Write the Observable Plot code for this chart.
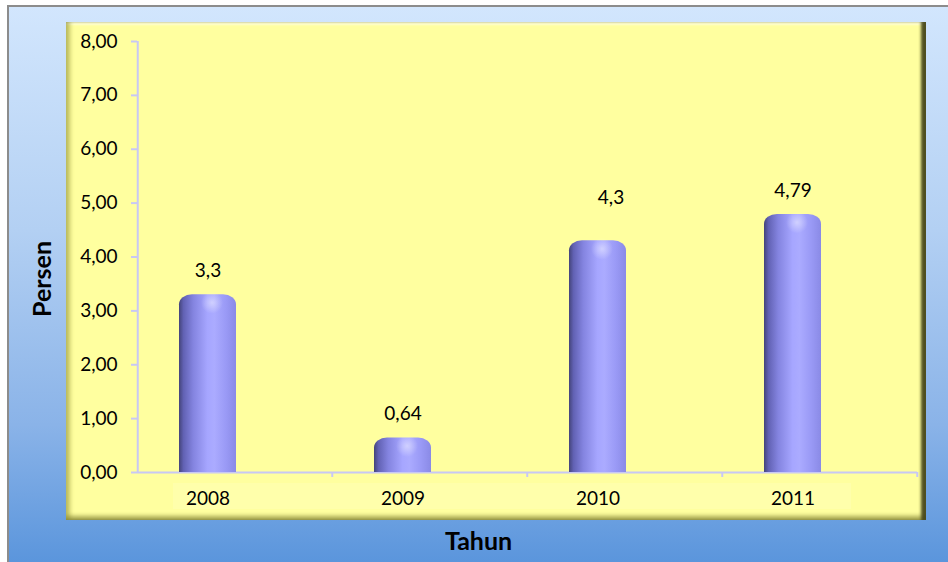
<!DOCTYPE html>
<html>
<head>
<meta charset="utf-8">
<script src="https://cdn.jsdelivr.net/npm/d3@7"></script>
<script src="https://cdn.jsdelivr.net/npm/@observablehq/plot@0.6"></script>
<style>
  body { margin: 0; background: #fff; }
  #wrap { position: relative; width: 948px; height: 562px; overflow: hidden; background: #fff; font-family: Lato, sans-serif; }
  #bg { position: absolute; left: 7px; top: 5px; width: 960px; height: 557px;
        border-top: 2px solid #8c8c8c; border-left: 2px solid #8c8c8c;
        background: linear-gradient(to bottom, #d2e6fd 0%, #b3d0f3 40%, #8ab3e8 75%, #5a95dc 100%); }
  #panel { position: absolute; left: 66px; top: 22px; width: 860px; height: 498px; background: #ffff9f;
        box-shadow: inset 6px 0 4px -2px rgba(140,140,50,0.55), inset -6px 0 3px -1px rgba(70,70,25,0.95),
                    inset 0 -6px 4px -2px rgba(130,130,50,0.7), inset 0 4px 2px -1px rgba(255,255,215,0.9); }
  #strip { position: absolute; left: 173px; top: 483px; width: 678px; height: 26px; background: #ffffab; }
  #chart { position: absolute; left: 0; top: 0; }
</style>
</head>
<body>
<div id="wrap">
  <div id="bg"></div>
  <div id="panel"></div>
  <div id="strip"></div>
  <div id="chart"></div>
</div>
<script>
const years = ["2008", "2009", "2010", "2011"];
const values = [3.3, 0.64, 4.3, 4.79];
const valueLabels = ["3,3", "0,64", "4,3", "4,79"];
const yTicks = [0, 1, 2, 3, 4, 5, 6, 7, 8];
const yTitle = "Persen";
const xTitle = "Tahun";

const data = years.map((y, i) => ({ year: y, value: values[i], label: valueLabels[i] }));
const axisColor = "#c8c8f4";
const fmt = d => d.toFixed(2).replace(".", ",");

const plot = Plot.plot({
  width: 948,
  height: 562,
  marginLeft: 137,
  marginRight: 31,
  marginTop: 41,
  marginBottom: 90,
  style: { background: "transparent", fontFamily: "Lato, sans-serif", fontSize: "19px", color: "#000", overflow: "visible" },
  x: { domain: years, padding: 0 },
  y: { domain: [0, 8] },
  marks: [
    Plot.axisY(yTicks, { tickSize: 6, tickPadding: 14, stroke: axisColor, strokeWidth: 2, tickFormat: fmt, label: null, fontSize: 19 }),
    Plot.ruleX([years[0]], { y1: 0, y2: 8, dx: -97.25, stroke: axisColor, strokeWidth: 2 }),
    Plot.ruleY([0], { stroke: axisColor, strokeWidth: 2 }),
    Plot.ruleX(years, { y1: 0, y2: 0, dx: 97.25, insetBottom: -5, stroke: axisColor, strokeWidth: 2 }),
    Plot.axisX({ tickSize: 0, tickPadding: 19, dx: -27, label: null, fontSize: 19 }),
    Plot.barY(data, { x: "year", y: "value", fill: "url(#barGrad)", insetLeft: 69, insetRight: 69, dx: -27, rx: 13, ry: 10 }),
    Plot.barY(data, { x: "year", y1: 0, y2: d => d.value / 2, fill: "url(#barGrad)", insetLeft: 69, insetRight: 69, dx: -27 }),
    Plot.dot(data, { x: "year", y: "value", dx: -23, dy: 8, r: 11, fill: "url(#hl)", stroke: "none" }),
    Plot.text(data.filter(d => d.year !== "2010"), { x: "year", y: "value", text: "label", dx: -27, dy: -24, fontSize: 19, fill: "#000" }),
    Plot.text(data.filter(d => d.year === "2010"), { x: "year", y: "value", text: "label", dx: -14, dy: -43, fontSize: 19, fill: "#000" }),
    Plot.text([yTitle], { frameAnchor: "left", textAnchor: "middle", lineAnchor: "middle", rotate: -90, dx: -95, dy: 22, fontSize: 25, fontWeight: "bold", fill: "#000" }),
    Plot.text([xTitle], { frameAnchor: "bottom", textAnchor: "middle", lineAnchor: "middle", dx: -49, dy: 69, fontSize: 25, fontWeight: "bold", fill: "#000" })
  ]
});

d3.select(plot).insert("defs", ":first-child").html(`
  <linearGradient id="barGrad" x1="0" y1="0" x2="1" y2="0">
    <stop offset="0" stop-color="#44447a"/>
    <stop offset="0.08" stop-color="#6262b4"/>
    <stop offset="0.25" stop-color="#8484e0"/>
    <stop offset="0.5" stop-color="#a6a6ff"/>
    <stop offset="0.62" stop-color="#ababff"/>
    <stop offset="0.82" stop-color="#9a9af6"/>
    <stop offset="1" stop-color="#8a8ae6"/>
  </linearGradient>
  <radialGradient id="hl" cx="0.5" cy="0.5" r="0.5">
    <stop offset="0" stop-color="#ffffff" stop-opacity="0.45"/>
    <stop offset="1" stop-color="#ffffff" stop-opacity="0"/>
  </radialGradient>
`);

document.getElementById("chart").appendChild(plot);
</script>
</body>
</html>
